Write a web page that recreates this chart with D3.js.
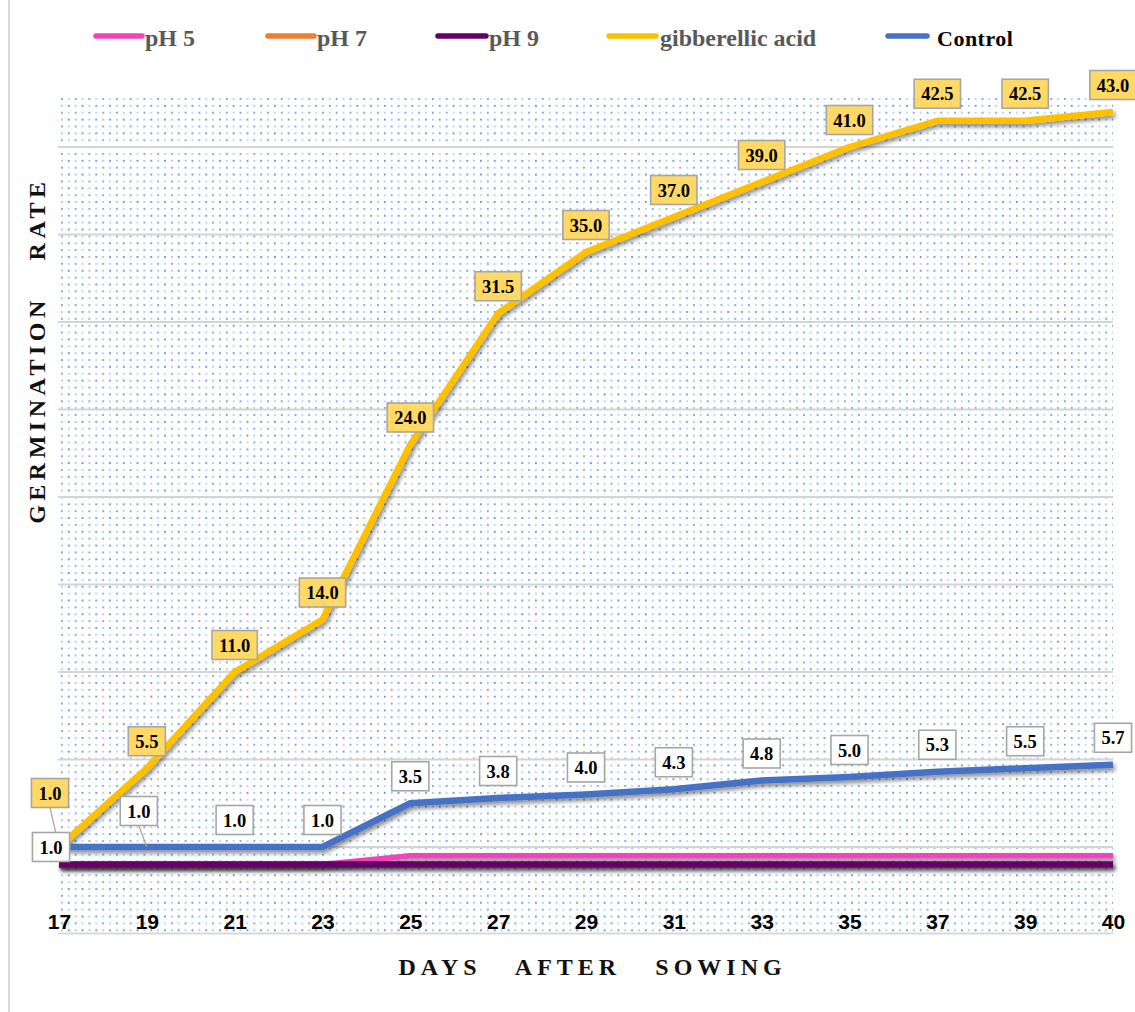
<!DOCTYPE html>
<html>
<head>
<meta charset="utf-8">
<script src="https://cdn.jsdelivr.net/npm/d3@7"></script>
<style>
  html, body { margin: 0; padding: 0; background: #fff; }
  svg { display: block; }
</style>
</head>
<body>
<svg id="chart" width="1135" height="1012"></svg>
<script>
// Days after sowing (category axis)
const days = ["17", "19", "21", "23", "25", "27", "29", "31", "33", "35", "37", "39", "40"];

// Germination rate per treatment
const ph5 = [0, 0, 0, 0, 0.5, 0.5, 0.5, 0.5, 0.5, 0.5, 0.5, 0.5, 0.5];
const ph7 = [0, 0, 0, 0, 0, 0, 0, 0, 0, 0, 0, 0, 0];
const ph9 = [0, 0, 0, 0, 0, 0, 0, 0, 0, 0, 0, 0, 0];
const gibberellic = [1.0, 5.5, 11.0, 14.0, 24.0, 31.5, 35.0, 37.0, 39.0, 41.0, 42.5, 42.5, 43.0];
const control = [1.0, 1.0, 1.0, 1.0, 3.5, 3.8, 4.0, 4.3, 4.8, 5.0, 5.3, 5.5, 5.7];

// Value axis: bounds and gridline values
const yDomain = [-4, 44];
const yGrid = [1, 6, 11, 16, 21, 26, 31, 36, 41];

const seriesNames = ["pH 5", "pH 7", "pH 9", "gibberellic acid", "Control"];
const seriesValues = [ph5, ph7, ph9, gibberellic, control];

// ---- styling / layout ----
const colors = {
  "pH 5": "#EE45BD",
  "pH 7": "#ED7D31",
  "pH 9": "#660066",
  "gibberellic acid": "#FFC000",
  "Control": "#4472C4"
};
const widths = { "pH 5": 5.5, "pH 7": 6, "pH 9": 6.5, "gibberellic acid": 6.5, "Control": 6.5 };

const plot = { left: 59, right: 1113, top: 94.5, bottom: 934.5 };

const svg = d3.select("#chart");
const defs = svg.append("defs");

// light blue dotted fill of the plot area
const pat = defs.append("pattern")
  .attr("id", "dots")
  .attr("patternUnits", "userSpaceOnUse")
  .attr("x", 61).attr("y", 98)
  .attr("width", 13.74).attr("height", 13.74);
[[0, 0, "#4a8ad6", 0.75], [6.87, 0, "#8ab8e8", 0.6], [0, 6.87, "#6fa3e0", 0.6], [6.87, 6.87, "#3f82d2", 0.8]]
  .forEach(([x, y, c, o]) => {
    pat.append("rect").attr("x", x).attr("y", y).attr("width", 1.8).attr("height", 2)
      .attr("fill", c).attr("opacity", o);
  });

// soft drop shadow under the series lines (region in user space so flat lines keep it)
const shadow = defs.append("filter").attr("id", "shadow")
  .attr("filterUnits", "userSpaceOnUse")
  .attr("x", 0).attr("y", 0).attr("width", 1135).attr("height", 1012);
shadow.append("feDropShadow")
  .attr("dx", 2).attr("dy", 3).attr("stdDeviation", 2)
  .attr("flood-color", "#000").attr("flood-opacity", 0.45);

const x = d3.scalePoint().domain(days).range([plot.left, plot.right]);
const y = d3.scaleLinear().domain(yDomain).range([plot.bottom, plot.top]);

// chart area left border
svg.append("line")
  .attr("x1", 9).attr("x2", 9).attr("y1", 0).attr("y2", 1012)
  .attr("stroke", "#d9d9d9").attr("stroke-width", 2);

// plot area
svg.append("rect")
  .attr("x", plot.left).attr("y", plot.top)
  .attr("width", plot.right - plot.left).attr("height", plot.bottom - plot.top)
  .attr("fill", "url(#dots)");

// horizontal gridlines
svg.append("g").selectAll("line").data(yGrid).join("line")
  .attr("x1", plot.left - 1).attr("x2", plot.right)
  .attr("y1", d => y(d)).attr("y2", d => y(d))
  .attr("stroke", "#d4d4d4").attr("stroke-width", 2);

// category axis line
svg.append("line")
  .attr("x1", plot.left - 1).attr("x2", plot.right)
  .attr("y1", y(yDomain[0]) - 1).attr("y2", y(yDomain[0]) - 1)
  .attr("stroke", "#d9d9d9").attr("stroke-width", 2);

// category tick labels (sit inside the plot, near its bottom)
const xAxis = d3.axisBottom(x).tickSize(0).tickPadding(0);
const xg = svg.append("g").attr("transform", `translate(0,${y(yDomain[0]) - 21})`).call(xAxis);
xg.select(".domain").remove();
xg.selectAll("text")
  .attr("dy", 0).attr("y", 15)
  .attr("font-family", "'Liberation Sans', Arial, sans-serif")
  .attr("font-weight", "bold").attr("font-size", 21).attr("fill", "#000");

// series lines
const line = d3.line().x((d, i) => x(days[i])).y(d => y(d));
const linesG = svg.append("g");
seriesNames.forEach((name, si) => {
  linesG.append("path")
    .datum(seriesValues[si])
    .attr("d", line)
    .attr("fill", "none")
    .attr("stroke", colors[name])
    .attr("stroke-width", widths[name])
    .attr("stroke-linejoin", "round")
    .attr("stroke-linecap", "butt")
    .attr("filter", "url(#shadow)");
});

// data labels
const labelFont = "'Liberation Serif', 'Times New Roman', serif";
const defaultDy = -27;
const nudges = {
  "gibberellic acid": { 0: { dx: -9, dy: -54, leader: true } },
  "Control": { 0: { dx: -8, dy: 0 }, 1: { dx: -8, dy: -36, leader: true } }
};
const labelFill = { "gibberellic acid": "#FFD966", "Control": "#FFFFFF" };

["gibberellic acid", "Control"].forEach(name => {
  const vals = seriesValues[seriesNames.indexOf(name)];
  const g = svg.append("g");
  vals.forEach((v, i) => {
    const px = x(days[i]), py = y(v);
    const n = (nudges[name] || {})[i] || {};
    const cx = px + (n.dx || 0);
    const cy = py + (n.dy !== undefined ? n.dy : defaultDy);
    const h = 29;
    if (n.leader) {
      g.append("line")
        .attr("x1", cx).attr("y1", cy + h / 2)
        .attr("x2", px).attr("y2", py)
        .attr("stroke", "#a6a6a6").attr("stroke-width", 1.2);
    }
    const rect = g.append("rect");
    const t = g.append("text")
      .attr("x", cx).attr("y", cy + 6.5)
      .attr("text-anchor", "middle")
      .attr("font-family", labelFont)
      .attr("font-weight", "bold").attr("font-size", 18.5)
      .attr("fill", "#000")
      .text(v.toFixed(1));
    const w = t.node().getComputedTextLength() + 14;
    rect.attr("x", cx - w / 2).attr("y", cy - h / 2)
      .attr("width", w).attr("height", h)
      .attr("fill", labelFill[name])
      .attr("stroke", "#a6a6a6").attr("stroke-width", 1.6);
  });
});

// legend
const legendItems = [
  { name: "pH 5", x1: 96, x2: 142, tx: 145, color: "#595959", size: 24 },
  { name: "pH 7", x1: 268, x2: 314, tx: 317, color: "#595959", size: 24 },
  { name: "pH 9", x1: 438, x2: 486, tx: 489, color: "#595959", size: 24 },
  { name: "gibberellic acid", x1: 609, x2: 656, tx: 660, color: "#595959", size: 24 },
  { name: "Control", x1: 888, x2: 927, tx: 937, color: "#000000", size: 22 }
];
const lg = svg.append("g");
legendItems.forEach(it => {
  lg.append("line")
    .attr("x1", it.x1).attr("x2", it.x2).attr("y1", 36).attr("y2", 36)
    .attr("stroke", colors[it.name]).attr("stroke-width", 5.5)
    .attr("stroke-linecap", "round");
  lg.append("text")
    .attr("x", it.tx).attr("y", 46)
    .attr("font-family", labelFont).attr("font-weight", "bold")
    .attr("font-size", it.size).attr("fill", it.color)
    .attr("letter-spacing", it.name === "Control" ? 0.5 : 0)
    .text(it.name);
});

// axis titles
const titleStyle = sel => sel
  .attr("font-family", labelFont).attr("font-weight", "bold")
  .attr("font-size", 24).attr("fill", "#111")
  .attr("text-anchor", "middle");

[["DAYS", 440], ["AFTER", 568], ["SOWING", 721]].forEach(([word, cx]) => {
  svg.append("text").call(titleStyle)
    .attr("x", cx).attr("y", 975)
    .attr("letter-spacing", 5)
    .text(word);
});

[["GERMINATION", 410], ["RATE", 219]].forEach(([word, cy]) => {
  svg.append("text").call(titleStyle)
    .attr("transform", `translate(45,${cy}) rotate(-90)`)
    .attr("letter-spacing", 4.5)
    .text(word);
});
</script>
</body>
</html>
